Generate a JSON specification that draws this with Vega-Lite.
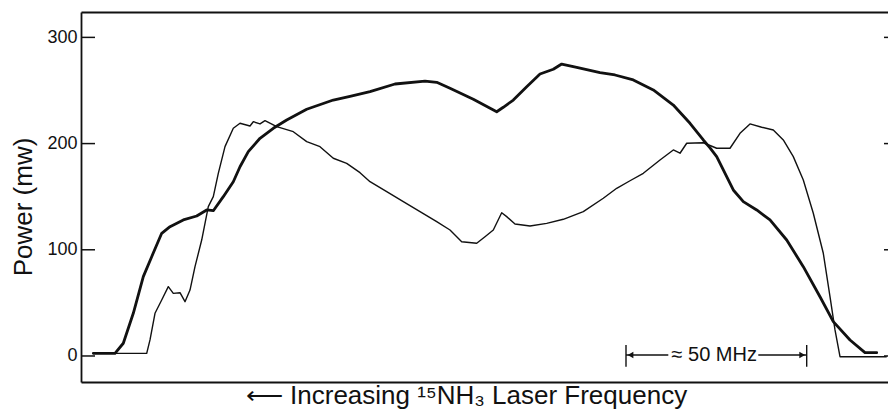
{
  "$schema": "https://vega.github.io/schema/vega-lite/v6.json",
  "width": 807,
  "height": 370,
  "autosize": {"type": "none"},
  "padding": {"left": 81, "top": 12, "right": 0, "bottom": 31},
  "background": "white",
  "config": {"view": {"stroke": null}, "font": "Liberation Sans"},
  "datasets": {
    "traces": [
      {"trace":"A","f":12.3,"p":2.5},{"trace":"A","f":34,"p":2.5},{"trace":"A","f":42.3,"p":12.0},{"trace":"A","f":52.3,"p":40.2},{"trace":"A","f":62.3,"p":74.7},{"trace":"A","f":70.7,"p":93.5},{"trace":"A","f":80.7,"p":115.5},{"trace":"A","f":89,"p":121.8},{"trace":"A","f":102.3,"p":128.1},{"trace":"A","f":115.7,"p":131.8},{"trace":"A","f":125.7,"p":137.5},{"trace":"A","f":132.3,"p":136.8},{"trace":"A","f":142.3,"p":150.0},{"trace":"A","f":152.3,"p":164.1},{"trace":"A","f":159,"p":178.2},{"trace":"A","f":167.3,"p":192.4},{"trace":"A","f":179,"p":205.0},{"trace":"A","f":192.3,"p":214.4},{"trace":"A","f":205.7,"p":222.2},{"trace":"A","f":225.7,"p":232.3},{"trace":"A","f":252.3,"p":241.0},{"trace":"A","f":269,"p":244.5},{"trace":"A","f":289,"p":248.9},{"trace":"A","f":314,"p":256.1},{"trace":"A","f":344,"p":258.9},{"trace":"A","f":355.7,"p":257.7},{"trace":"A","f":369,"p":252.1},{"trace":"A","f":392.3,"p":241.7},{"trace":"A","f":415.7,"p":230.0},{"trace":"A","f":422.3,"p":234.2},{"trace":"A","f":432.3,"p":241.0},{"trace":"A","f":445.7,"p":253.6},{"trace":"A","f":459,"p":265.5},{"trace":"A","f":472.3,"p":270.0},{"trace":"A","f":480.7,"p":274.9},{"trace":"A","f":495.7,"p":271.8},{"trace":"A","f":519,"p":266.8},{"trace":"A","f":534,"p":264.6},{"trace":"A","f":552.3,"p":259.9},{"trace":"A","f":572.3,"p":250.5},{"trace":"A","f":592.3,"p":236.3},{"trace":"A","f":609,"p":219.1},{"trace":"A","f":622.3,"p":203.4},{"trace":"A","f":629,"p":196.0},{"trace":"A","f":635.7,"p":187.7},{"trace":"A","f":652.3,"p":156.3},{"trace":"A","f":662.3,"p":145.3},{"trace":"A","f":675.7,"p":137.5},{"trace":"A","f":689,"p":128.1},{"trace":"A","f":705.7,"p":109.2},{"trace":"A","f":722.3,"p":84.1},{"trace":"A","f":739,"p":55.8},{"trace":"A","f":752.3,"p":32.3},{"trace":"A","f":769,"p":15.1},{"trace":"A","f":784,"p":3.1},{"trace":"A","f":795.7,"p":3.1},
      {"trace":"B","f":12.3,"p":2.5},{"trace":"B","f":65.7,"p":2.5},{"trace":"B","f":69,"p":15.1},{"trace":"B","f":74,"p":40.2},{"trace":"B","f":80.7,"p":52.7},{"trace":"B","f":87.3,"p":65.3},{"trace":"B","f":92.3,"p":59.0},{"trace":"B","f":99,"p":59.6},{"trace":"B","f":104,"p":51.1},{"trace":"B","f":109,"p":62.1},{"trace":"B","f":114,"p":84.1},{"trace":"B","f":120.7,"p":109.2},{"trace":"B","f":127.3,"p":140.6},{"trace":"B","f":132.3,"p":150.0},{"trace":"B","f":137.3,"p":172.0},{"trace":"B","f":144,"p":197.1},{"trace":"B","f":152.3,"p":214.4},{"trace":"B","f":159,"p":219.1},{"trace":"B","f":169,"p":216.6},{"trace":"B","f":172.3,"p":220.6},{"trace":"B","f":179,"p":218.5},{"trace":"B","f":184,"p":221.6},{"trace":"B","f":195.7,"p":215.9},{"trace":"B","f":212.3,"p":211.2},{"trace":"B","f":225.7,"p":201.8},{"trace":"B","f":239,"p":197.1},{"trace":"B","f":252.3,"p":186.2},{"trace":"B","f":265.7,"p":181.4},{"trace":"B","f":279,"p":172.6},{"trace":"B","f":289,"p":164.1},{"trace":"B","f":305.7,"p":154.7},{"trace":"B","f":322.3,"p":145.3},{"trace":"B","f":339,"p":135.9},{"trace":"B","f":355.7,"p":126.5},{"trace":"B","f":369,"p":118.6},{"trace":"B","f":380.7,"p":107.6},{"trace":"B","f":395.7,"p":106.1},{"trace":"B","f":404,"p":112.3},{"trace":"B","f":412.3,"p":118.6},{"trace":"B","f":420.7,"p":134.9},{"trace":"B","f":425.7,"p":131.2},{"trace":"B","f":434,"p":124.3},{"trace":"B","f":449,"p":122.4},{"trace":"B","f":465.7,"p":124.9},{"trace":"B","f":482.3,"p":128.7},{"trace":"B","f":502.3,"p":135.9},{"trace":"B","f":522.3,"p":148.5},{"trace":"B","f":535.7,"p":157.9},{"trace":"B","f":549,"p":165.0},{"trace":"B","f":562.3,"p":172.0},{"trace":"B","f":579,"p":184.6},{"trace":"B","f":592.3,"p":194.0},{"trace":"B","f":599,"p":190.9},{"trace":"B","f":605.7,"p":200.3},{"trace":"B","f":622.3,"p":200.8},{"trace":"B","f":635.7,"p":195.6},{"trace":"B","f":649,"p":195.6},{"trace":"B","f":659,"p":209.7},{"trace":"B","f":669,"p":218.5},{"trace":"B","f":680.7,"p":215.4},{"trace":"B","f":692.3,"p":212.8},{"trace":"B","f":702.3,"p":203.4},{"trace":"B","f":712.3,"p":187.7},{"trace":"B","f":722.3,"p":165.7},{"trace":"B","f":732.3,"p":134.4},{"trace":"B","f":742.3,"p":96.7},{"trace":"B","f":749,"p":55.8},{"trace":"B","f":754,"p":24.5},{"trace":"B","f":759,"p":-0.7},{"trace":"B","f":805.7,"p":-0.7}
    ],
    "ticks": [{"v": 0}, {"v": 100}, {"v": 200}, {"v": 300}],
    "segments": [
      {"x": 545, "x2": 545, "y": -10.1, "y2": 10.4},
      {"x": 725.7, "x2": 725.7, "y": -10.1, "y2": 10.4},
      {"x": 545, "x2": 587.3, "y": 0.94, "y2": 0.94},
      {"x": 677.3, "x2": 725.7, "y": 0.94, "y2": 0.94}
    ],
    "heads": [
      {"x": 549.5, "y": 0.94, "dir": "left"},
      {"x": 721.2, "y": 0.94, "dir": "right"}
    ],
    "notes": [
      {"x": 633.2, "y": 0.94, "label": "≈ 50 MHz"}
    ]
  },
  "resolve": {"axis": {"x": "independent", "y": "independent"}},
  "layer": [
    {
      "data": {"name": "traces"},
      "transform": [{"filter": "datum.trace === 'A'"}],
      "mark": {"type": "line", "color": "#111", "strokeWidth": 2.8, "strokeJoin": "round", "strokeCap": "round"},
      "encoding": {
        "x": {"field": "f", "type": "quantitative", "scale": {"domain": [0, 807], "nice": false, "zero": false},
          "axis": {"orient": "bottom", "ticks": false, "labels": false, "grid": false, "domainColor": "#111", "domainWidth": 1.8,
            "title": "⟵ Increasing ¹⁵NH₃ Laser Frequency", "titleFont": "Liberation Sans", "titleFontSize": 26, "titleFontWeight": "normal", "titleColor": "#111",
            "titleX": 385, "titleY": 21, "titleBaseline": "alphabetic", "titleAlign": "center"}},
        "y": {"field": "p", "type": "quantitative", "scale": {"domain": [-24.5, 323.9], "nice": false, "zero": false},
          "axis": {"orient": "left", "values": [0, 100, 200, 300], "grid": false, "ticks": false,
            "labelPadding": 4, "labelFont": "Liberation Sans", "labelFontSize": 18, "labelColor": "#111", "domainColor": "#111", "domainWidth": 1.8,
            "title": "Power (mw)", "titleFont": "Liberation Sans", "titleFontSize": 26, "titleFontWeight": "normal", "titleColor": "#111",
            "titleAngle": -90, "titleX": -50, "titleY": 194.5, "titleBaseline": "alphabetic", "titleAlign": "center"}}
      }
    },
    {
      "data": {"name": "traces"},
      "transform": [{"filter": "datum.trace === 'B'"}],
      "mark": {"type": "line", "color": "#111", "strokeWidth": 1.4, "strokeJoin": "round"},
      "encoding": {
        "x": {"field": "f", "type": "quantitative", "scale": {"domain": [0, 807], "nice": false, "zero": false}, "axis": null},
        "y": {"field": "p", "type": "quantitative", "scale": {"domain": [-24.5, 323.9], "nice": false, "zero": false}, "axis": null}
      }
    },
    {
      "data": {"name": "ticks"},
      "mark": {"type": "rule", "color": "#111", "strokeWidth": 1.5},
      "encoding": {
        "x": {"datum": 0, "type": "quantitative", "scale": {"domain": [0, 807], "nice": false, "zero": false}, "axis": null},
        "x2": {"datum": 14},
        "y": {"field": "v", "type": "quantitative", "scale": {"domain": [-24.5, 323.9], "nice": false, "zero": false}, "axis": null}
      }
    },
    {
      "data": {"name": "ticks"},
      "mark": {"type": "rule", "color": "#111", "strokeWidth": 1.5},
      "encoding": {
        "x": {"datum": 803, "type": "quantitative", "scale": {"domain": [0, 807], "nice": false, "zero": false}, "axis": null},
        "x2": {"datum": 807},
        "y": {"field": "v", "type": "quantitative", "scale": {"domain": [-24.5, 323.9], "nice": false, "zero": false}, "axis": null}
      }
    },
    {
      "data": {"name": "segments"},
      "mark": {"type": "rule", "color": "#111", "strokeWidth": 1.4},
      "encoding": {
        "x": {"field": "x", "type": "quantitative", "scale": {"domain": [0, 807], "nice": false, "zero": false},
          "axis": {"orient": "top", "ticks": false, "labels": false, "grid": false, "title": null, "domainColor": "#111", "domainWidth": 1.8}},
        "x2": {"field": "x2"},
        "y": {"field": "y", "type": "quantitative", "scale": {"domain": [-24.5, 323.9], "nice": false, "zero": false}, "axis": null},
        "y2": {"field": "y2"}
      }
    },
    {
      "data": {"name": "heads"},
      "mark": {"type": "point", "filled": true, "color": "#111", "size": 45, "opacity": 1},
      "encoding": {
        "x": {"field": "x", "type": "quantitative", "scale": {"domain": [0, 807], "nice": false, "zero": false}, "axis": null},
        "y": {"field": "y", "type": "quantitative", "scale": {"domain": [-24.5, 323.9], "nice": false, "zero": false}, "axis": null},
        "shape": {"field": "dir", "type": "nominal", "scale": {"domain": ["left", "right"], "range": ["triangle-left", "triangle-right"]}, "legend": null}
      }
    },
    {
      "data": {"name": "notes"},
      "mark": {"type": "text", "font": "Liberation Sans", "fontSize": 20, "color": "#111", "align": "center", "baseline": "middle"},
      "encoding": {
        "x": {"field": "x", "type": "quantitative", "scale": {"domain": [0, 807], "nice": false, "zero": false}, "axis": null},
        "y": {"field": "y", "type": "quantitative", "scale": {"domain": [-24.5, 323.9], "nice": false, "zero": false}, "axis": null},
        "text": {"field": "label"}
      }
    }
  ]
}
